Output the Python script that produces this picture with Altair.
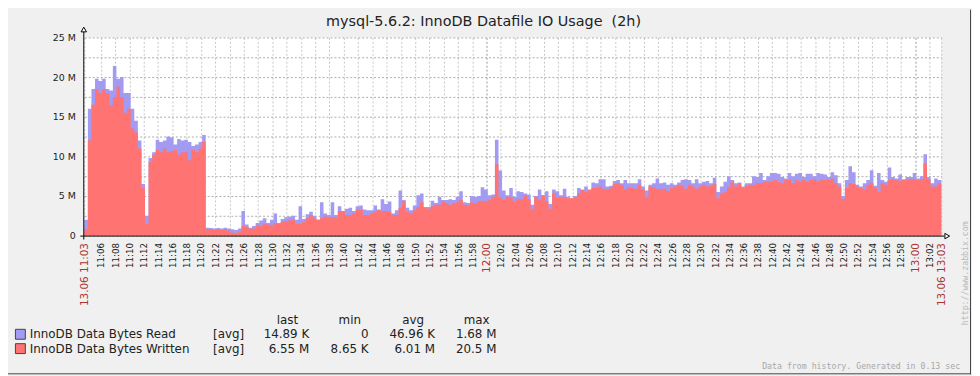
import altair as alt
import pandas as pd

# ---------------- data ----------------
title_text = "mysql-5.6.2: InnoDB Datafile IO Usage\u00a0 (2h)"
start_min = 3 + 40 / 60          # 11:03:40, minutes after 11:00
step_min = 0.5                   # 30 s per sample
span_min = 120

# InnoDB Data Bytes Written (M), red area top
written_m = [
    0.8, 12, 16.5, 18.5, 18, 18.5, 18, 16.4, 17.5, 18.8,
    17.5, 15.5, 16, 13.5, 13, 11, 6, 1.5, 9.3, 10.2,
    10.8, 10.5, 11, 10.5, 10.6, 10.8, 10.2, 10.5, 10.5, 9.5,
    10.8, 10.5, 11, 11.8, 0.8, 0.8, 0.75, 0.8, 0.75, 0.8,
    0.6, 0.4, 0.3, 0.5, 1.2, 1.1, 0.9, 0.9, 1.3, 1.2,
    1.5, 1.4, 1.3, 1.6, 1.5, 1.7, 1.8, 1.9, 2.0, 1.5,
    1.5, 1.7, 2.2, 2.6, 2.2, 2.0, 2.2, 2.4, 2.3, 2.3,
    2.3, 3.1, 3.1, 2.6, 2.6, 2.8, 3.3, 3.25, 2.6, 2.6,
    2.8, 3.0, 3.25, 3.1, 3.1, 3.0, 2.6, 2.6, 3.5, 4.3,
    3.0, 2.8, 3.2, 3.6, 4.2, 3.5, 3.4, 3.7, 3.9, 3.9,
    4.3, 4.1, 3.9, 4.1, 4.2, 4.5, 3.9, 3.8, 4.2, 4.1,
    4.3, 4.4, 4.3, 4.5, 4.9, 9.0, 4.9, 4.5, 4.9, 4.8,
    4.3, 4.6, 4.6, 5.1, 4.6, 3.3, 4.9, 4.5, 5.1, 4.3,
    3.4, 5.3, 4.8, 4.9, 4.9, 4.7, 4.7, 4.8, 5.3, 5.75,
    5.5, 5.75, 6.0, 6.0, 6.2, 5.9, 5.8, 6.1, 6.5, 6.6,
    6.4, 5.8, 6.1, 6.0, 5.9, 6.4, 5.8, 4.9, 6.2, 6.1,
    5.9, 5.8, 5.9, 5.6, 6.0, 6.2, 6.4, 6.25, 5.9, 6.4,
    6.2, 5.9, 6.2, 6.4, 6.2, 6.25, 6.5, 4.7, 5.3, 5.5,
    6.1, 6.8, 6.2, 6.6, 6.0, 6.25, 6.4, 6.4, 6.6, 6.6,
    6.8, 6.8, 6.8, 7.0, 6.8, 6.6, 7.0, 7.0, 6.6, 7.0,
    6.8, 7.0, 6.8, 7.0, 7.1, 6.8, 7.0, 7.0, 7.0, 7.2,
    6.6, 6.2, 4.6, 6.0, 6.6, 6.5, 6.2, 6.0, 5.8, 6.4,
    6.6, 6.0, 5.5, 6.6, 6.4, 7.0, 7.1, 7.0, 6.9, 7.0,
    7.1, 7.1, 7.1, 7.0, 7.1, 9.1, 7.1, 6.2, 6.2, 6.6,
]

# top of the visible blue (Read) band (M)
read_top_m = [
    2.0, 16, 18.5, 19.8, 19.5, 19.8, 18.5, 18.3, 21.4, 19.8,
    20, 18, 18, 16, 14.5, 12, 6.5, 2.5, 9.8, 10.5,
    12.1, 11.8, 12, 12.5, 12.4, 11.5, 12.2, 12, 12.1, 11.8,
    11.3, 11.5, 11.8, 12.7, 1.0, 0.95, 0.9, 0.95, 0.9, 1.0,
    0.9, 0.8, 0.7, 0.9, 3.1, 1.4, 1.0, 1.2, 1.6, 1.9,
    2.2, 1.6, 2.0, 2.8, 1.6, 2.1, 2.3, 2.4, 2.5, 2.0,
    3.7, 2.1, 2.7, 3.0, 2.5, 2.0, 4.2, 2.8, 2.6, 4.2,
    2.6, 3.7, 3.1, 3.4, 3.5, 3.1, 3.7, 3.8, 3.3, 3.2,
    3.2, 3.8, 3.25, 4.6, 4.0, 4.3, 2.8, 3.2, 5.7, 4.5,
    3.5, 3.2, 3.8, 5.1, 5.3, 3.6, 3.6, 4.4, 4.1, 4.9,
    4.5, 4.5, 4.6, 4.5, 4.9, 5.6, 4.2, 4.1, 5.0, 4.9,
    5.0, 6.1, 5.8, 5.1, 5.2, 12.1, 8.2, 5.7, 5.1, 6.0,
    4.9, 5.6, 5.5, 5.3, 5.2, 3.9, 5.0, 5.8, 5.1, 5.6,
    4.0, 5.8, 5.6, 5.1, 5.9, 4.9, 4.7, 5.0, 6.0, 5.8,
    6.2, 5.8, 6.7, 6.6, 7.1, 7.1, 6.2, 6.3, 6.9, 7.0,
    6.6, 7.0, 6.6, 6.6, 6.6, 7.1, 6.2, 5.7, 6.4, 6.6,
    7.2, 6.6, 6.7, 6.4, 6.6, 6.4, 6.7, 7.0, 7.1, 7.0,
    6.6, 7.1, 6.6, 6.8, 6.9, 6.6, 7.3, 5.5, 6.2, 6.8,
    7.5, 7.0, 6.6, 6.7, 6.2, 6.6, 6.6, 7.5, 7.4, 7.9,
    7.0, 7.5, 7.9, 7.9, 7.8, 7.4, 7.2, 7.9, 7.5, 7.8,
    7.9, 7.4, 7.8, 7.8, 7.5, 7.9, 7.8, 7.7, 7.4, 8.0,
    7.6, 6.6, 5.0, 7.0, 8.75, 8.0, 6.4, 6.2, 6.6, 7.0,
    8.25, 6.3, 7.9, 7.0, 6.8, 8.6, 7.4, 7.2, 7.7, 7.1,
    7.4, 7.4, 7.9, 7.2, 7.5, 10.25, 7.4, 6.6, 7.2, 7.0,
]

y_ticks = [0, 2.5, 5, 7.5, 10, 12.5, 15, 17.5, 20, 22.5, 25]
x_ticks = [start_min] + list(range(6, 123, 2)) + [start_min + span_min]

legend_names = ["InnoDB Data Bytes Read", "InnoDB Data Bytes Written"]
legend_func = ["[avg]", "[avg]"]
legend_last = ["14.89 K", "6.55 M"]
legend_min = ["0", "8.65 K"]
legend_avg = ["46.96 K", "6.01 M"]
legend_max = ["1.68 M", "20.5 M"]
legend_headers = ["last", "min", "avg", "max"]
footer_text = "Data from history. Generated in 0.13 sec"
side_text = "http://www.zabbix.com"

# ---------------- styling ----------------
RED = "#FF7373"
BLUE = "#A39BF2"
LABEL_RED = "#AA3333"
TXT = "#222222"
FONT = "DejaVu Sans"
LEG = 12
W, H = 865, 200

n = len(written_m)
df = pd.DataFrame({
    "t": [start_min + step_min * i for i in range(n)] + [start_min + step_min * n],
    "written": written_m + [written_m[-1]],
    "read": read_top_m + [read_top_m[-1]],
})

xscale = alt.Scale(domain=[start_min, start_min + span_min], nice=False, zero=False)
yscale = alt.Scale(domain=[0, 25], nice=False)

major_test = "datum.value < 4 || datum.value > 123 || datum.value % 60 == 0"
x_label_expr = (
    "datum.value < 4 ? '13.06 11:03' : (datum.value > 123 ? '13.06 13:03' : "
    "(11 + floor(datum.value / 60)) + ':' + (datum.value % 60 < 10 ? '0' : '') + (datum.value % 60))"
)

x_axis = alt.Axis(
    values=x_ticks, labelExpr=x_label_expr, labelAngle=270, labelFont=FONT,
    labelFontSize={"condition": {"test": major_test, "value": 10.5}, "value": 8.8},
    labelColor={"condition": {"test": major_test, "value": LABEL_RED}, "value": TXT},
    labelPadding=7, labelFlush=False, labelOverlap=False, ticks=False, domain=False,
    grid=True, gridDash=[2, 2], gridWidth=1,
    gridColor={"condition": {"test": "datum.value % 60 == 0", "value": "#9a9a9a"}, "value": "#c6c6c6"},
    title=None,
)
y_axis = alt.Axis(
    values=y_ticks,
    labelExpr="datum.value % 5 != 0 ? '' : (datum.value == 0 ? '0' : datum.value + ' M')",
    labelFont=FONT, labelFontSize=9.5, labelColor=TXT, labelPadding=9, labelFlush=False,
    ticks=False, domain=False, grid=True, gridDash=[2, 2], gridColor="#ababab", gridWidth=1,
    title=None,
)

base = alt.Chart(df)
blue = base.mark_area(interpolate="step-after", color=BLUE).encode(
    x=alt.X("t:Q", scale=xscale, axis=x_axis),
    y=alt.Y("read:Q", scale=yscale, axis=y_axis),
)
red = base.mark_area(interpolate="step-after", color=RED).encode(
    x=alt.X("t:Q", scale=xscale, axis=x_axis),
    y=alt.Y("written:Q", scale=yscale, axis=y_axis),
)

one = alt.Data(values=[{}])


def txt(text, x, y, size=LEG, align="left", baseline="middle", color=TXT, font=FONT, angle=0):
    kw = dict(text=text, font=font, fontSize=size, align=align, baseline=baseline, color=color)
    if angle:
        kw["angle"] = angle
    return alt.Chart(one).mark_text(**kw).encode(x=alt.value(x), y=alt.value(y))


layers = [blue, red]

# axis lines with arrows
layers.append(alt.Chart(one).mark_rule(color="black", strokeWidth=1).encode(
    x=alt.value(-4), x2=alt.value(868), y=alt.value(200.5)))
layers.append(alt.Chart(one).mark_rule(color="black", strokeWidth=1).encode(
    x=alt.value(-0.5), y=alt.value(-6), y2=alt.value(204)))
layers.append(alt.Chart(one).mark_point(shape="triangle-up", size=30, filled=True, fill="white",
                                        stroke="black", strokeWidth=1, opacity=1).encode(
    x=alt.value(-0.5), y=alt.value(-8)))
layers.append(alt.Chart(one).mark_point(shape="triangle-right", size=30, filled=True, fill="white",
                                        stroke="black", strokeWidth=1, opacity=1).encode(
    x=alt.value(871), y=alt.value(200.5)))

# title
layers.append(txt(title_text, 403, -12, size=14.5, align="center", baseline="alphabetic"))

# legend
hdr_x = [205, 268, 332, 396]
for h, hx in zip(legend_headers, hdr_x):
    layers.append(txt(h, hx, 285.7, align="center"))
row_y = [299.6, 314.1]
colors = [BLUE, RED]
for k in range(2):
    ry = row_y[k]
    layers.append(alt.Chart(one).mark_rect(fill=colors[k], stroke="#444444", strokeWidth=1).encode(
        x=alt.value(-69.5), x2=alt.value(-59.5), y=alt.value(ry - 5), y2=alt.value(ry + 5)))
    layers.append(txt(legend_names[k], -55, ry))
    layers.append(txt(legend_func[k], 130, ry))
    layers.append(txt(legend_last[k], 227, ry, align="right"))
    layers.append(txt(legend_min[k], 287, ry, align="right"))
    layers.append(txt(legend_avg[k], 354, ry, align="right"))
    layers.append(txt(legend_max[k], 416, ry, align="right"))

# footer / watermark
layers.append(txt(footer_text, 884, 335, size=8.3, align="right", baseline="alphabetic",
                  color="#a8a8a8", font="DejaVu Sans Mono"))
layers.append(txt(side_text, 890, 238, size=8.3, align="center", baseline="middle",
                  color="#b8b8b8", font="DejaVu Sans Mono", angle=270))

# right / bottom frame
layers.append(alt.Chart(one).mark_rule(color="#444444", strokeWidth=1).encode(
    x=alt.value(894.5), y=alt.value(-28), y2=alt.value(340)))
layers.append(alt.Chart(one).mark_rule(color="#444444", strokeWidth=1).encode(
    x=alt.value(-77), x2=alt.value(895), y=alt.value(339.5)))

chart = alt.layer(*layers).properties(
    width=W, height=H,
    padding={"left": 77, "top": 28, "right": 31, "bottom": 140},
    autosize=alt.AutoSizeParams(type="none"),
).configure(background="#f0f0f0").configure_view(fill="white", stroke=None)

chart.save("out.html", embed_options={"renderer": "svg", "actions": False})
